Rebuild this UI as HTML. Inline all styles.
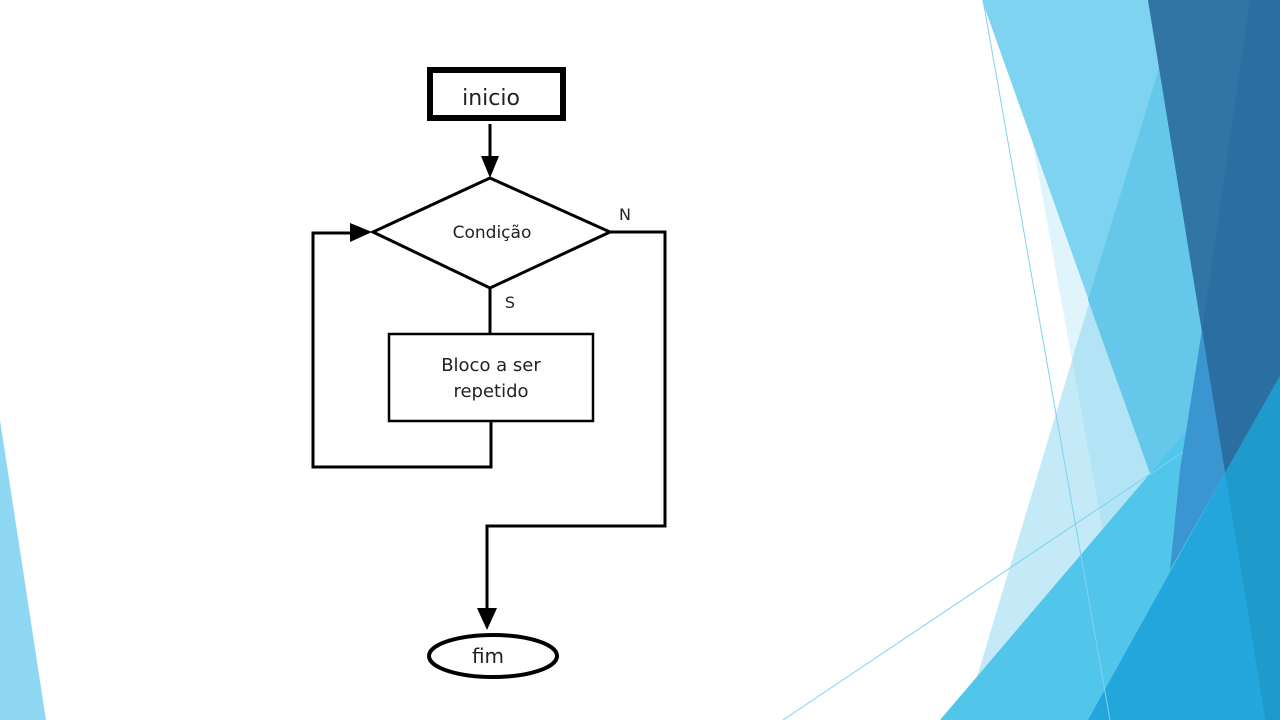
<!DOCTYPE html>
<html><head><meta charset="utf-8"><style>
html,body{margin:0;padding:0;background:#fff;}
svg{display:block;}
text{font-family:"DejaVu Sans","Liberation Sans",sans-serif;fill:#222;}
</style></head><body>
<svg width="1280" height="720" viewBox="0 0 1280 720" xmlns="http://www.w3.org/2000/svg">
<rect width="1280" height="720" fill="#fff"/>
<polygon points="0,420 0,720 46,720" fill="#8fd8f3"/>
<polygon points="1007,0 1280,0 1280,720 1137,720" fill="#e0f4fb"/>
<polygon points="1180,0 1280,0 1280,720 964,720" fill="#c5eaf7"/>
<polygon points="1072,360 1180,0 1280,0 1280,720 1137,720" fill="#b3e4f5"/>
<polygon points="982,0 1280,0 1280,720 1238,720" fill="#7dd3f0"/>
<polygon points="1088,300 1180,0 1280,0 1280,720 1238,720" fill="#65c8ea"/>
<polygon points="940,720 1280,321 1280,720" fill="#52c5ea"/>
<polygon points="1148,0 1280,0 1280,376 1225,473" fill="#2b6ea2"/>
<polygon points="1148,0 1250,0 1202,330" fill="#3175a4"/>
<polygon points="1225,473 1280,376 1280,720 1265,720" fill="#1e9acb"/>
<polygon points="1088,720 1225,473 1265,720" fill="#22a6dc"/>
<polygon points="1202,330 1225,473 1170,570 1180,470" fill="#3b95d0"/>
<line x1="983" y1="0" x2="1110" y2="720" stroke="#7dd3f0" stroke-width="1"/>
<line x1="783" y1="720" x2="1183" y2="452" stroke="#7dd3f0" stroke-width="1"/>
<g stroke="#000" fill="none">
<rect x="430" y="70" width="133" height="48" stroke-width="6" fill="#fff"/>
<line x1="490" y1="124" x2="490" y2="168" stroke-width="3"/>
<polygon points="490,178 373,232 490,288 610,232" stroke-width="3" fill="#fff"/>
<line x1="490" y1="288" x2="490" y2="334" stroke-width="3"/>
<rect x="389" y="334" width="204" height="87" stroke-width="2.5" fill="#fff"/>
<polyline points="491,421 491,467 313,467 313,233 360,233" stroke-width="3"/>
<polyline points="610,232 665,232 665,526 487,526 487,616" stroke-width="3"/>
<ellipse cx="493" cy="656" rx="64" ry="21" stroke-width="4" fill="#fff"/>
</g>
<polygon points="481,156 499,156 490,178" fill="#000"/>
<polygon points="350,223 350,242 372,232" fill="#000"/>
<polygon points="477,608 497,608 487,630" fill="#000"/>
<text x="491" y="105" font-size="22" text-anchor="middle">inicio</text>
<text x="492" y="238" font-size="17" text-anchor="middle" fill="#333">Condição</text>
<text x="625" y="220" font-size="16" text-anchor="middle">N</text>
<text x="510" y="308" font-size="16" text-anchor="middle">S</text>
<text x="491" y="371" font-size="18" text-anchor="middle" fill="#333">Bloco a ser</text>
<text x="491" y="397" font-size="18" text-anchor="middle" fill="#333">repetido</text>
<text x="488" y="663" font-size="20" text-anchor="middle">fim</text>
</svg>
</body></html>
